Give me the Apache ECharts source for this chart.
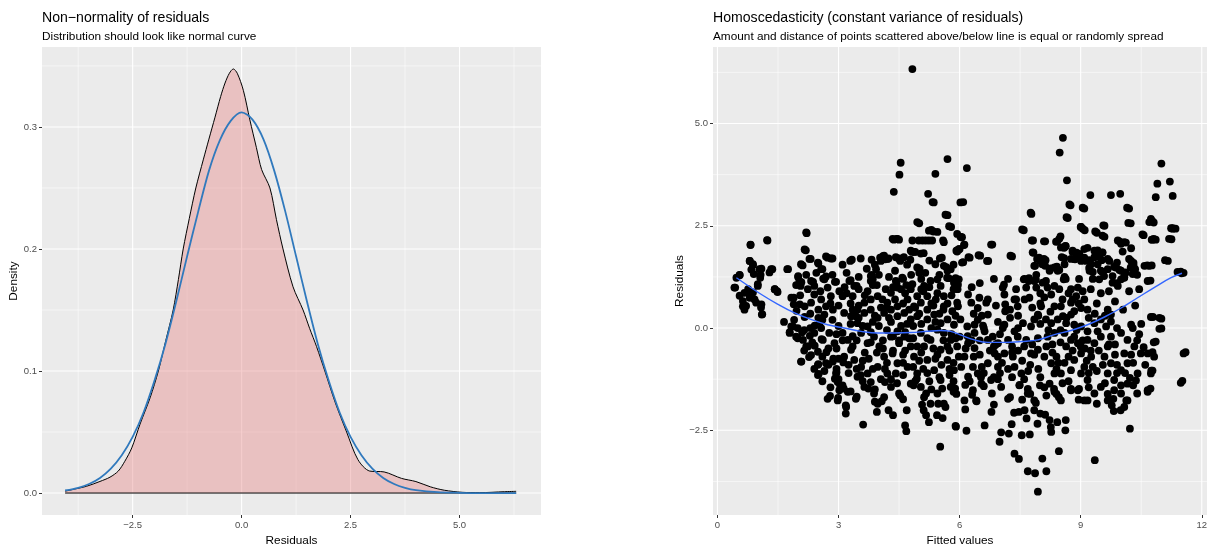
<!DOCTYPE html>
<html><head><meta charset="utf-8">
<script src="https://cdn.jsdelivr.net/npm/echarts@6/dist/echarts.min.js"></script>
<style>html,body{margin:0;padding:0;background:#fff}#c{width:1214px;height:544px}</style>
</head><body><div id="c"></div><script>
// ---------- Left panel: density of residuals ----------
const densityCurve = [[-4.05,0.0015],[-3.8,0.0035],[-3.56,0.0055],[-3.25,0.0095],[-3.02,0.013],[-2.83,0.018],[-2.68,0.026],[-2.52,0.037],[-2.33,0.0565],[-2.1,0.078],[-1.91,0.1],[-1.74,0.125],[-1.57,0.15],[-1.45,0.175],[-1.34,0.2],[-1.2,0.225],[-1.05,0.25],[-0.88,0.273],[-0.75,0.29],[-0.61,0.308],[-0.48,0.325],[-0.38,0.336],[-0.28,0.344],[-0.19,0.3475],[-0.1,0.344],[0.04,0.33],[0.19,0.3057],[0.34,0.283],[0.46,0.265],[0.65,0.25],[0.8,0.224],[0.95,0.2],[1.18,0.169],[1.41,0.15],[1.56,0.135],[1.72,0.12],[1.91,0.1],[2.15,0.074],[2.41,0.05],[2.67,0.0273],[2.94,0.018],[3.27,0.0173],[3.67,0.012],[4.0,0.0094],[4.33,0.0051],[4.65,0.0023],[5.06,0.0006],[5.46,0.0003],[6.03,0.0011],[6.3,0.0014]];
const normalCurve = [[-4.05,0.0021],[-3.75,0.0043],[-3.5,0.0074],[-3.25,0.0124],[-3.0,0.020],[-2.75,0.031],[-2.5,0.046],[-2.25,0.066],[-2.0,0.092],[-1.75,0.122],[-1.5,0.157],[-1.25,0.194],[-1.0,0.230],[-0.75,0.264],[-0.5,0.289],[-0.25,0.305],[0,0.312],[0.25,0.306],[0.5,0.290],[0.75,0.264],[1.0,0.231],[1.25,0.194],[1.5,0.157],[1.75,0.122],[2.0,0.092],[2.25,0.066],[2.5,0.046],[2.75,0.031],[3.0,0.020],[3.25,0.0124],[3.5,0.0074],[3.75,0.0043],[4.0,0.0024],[4.5,0.0007],[5.0,0.0002],[5.5,0.0],[6.3,0.0]];
const densXTicks = [-2.5, 0, 2.5, 5];
const densXMinor = [-3.75, -1.25, 1.25, 3.75, 6.25];
const densYTicks = [0, 0.1, 0.2, 0.3];
const densYMinor = [0.05, 0.15, 0.25, 0.35];
const densXRange = [-4.58, 6.87];
const densYRange = [-0.018, 0.3655];

// ---------- Right panel: residuals vs fitted ----------
const scatterTop = [[4.83,6.33],[4.54,4.04],[4.51,3.75],[5.70,4.13],[5.40,3.77],[4.37,3.33],[5.22,3.28],[5.36,3.07],[5.70,2.76],[5.0,2.56],[5.79,2.47],[6.02,3.07],[2.21,2.32],[0.82,2.03],[1.24,2.14],[4.37,2.16],[4.44,2.18],[4.5,2.16],[5.3,2.4],[5.45,2.35],[5.16,2.14],[5.32,2.14],[5.59,2.14],[2.19,1.9],[2.31,1.69],[0.8,1.64],[0.88,1.54],[0.84,1.43],[1.09,1.45],[1.36,1.44],[0.55,1.3],[1.07,1.3],[1.75,1.44],[2.11,1.53],[2.5,1.58],[2.6,1.44],[2.73,1.72],[2.85,1.7],[3.33,1.67],[3.82,1.67],[4.03,1.72],[4.1,1.76],[4.16,1.68],[4.24,1.7],[4.51,1.7],[4.53,1.64],[4.78,1.67],[4.82,1.86],[4.9,1.86],[5.11,1.83],[5.01,1.45],[5.05,1.2],[5.4,1.56],[5.56,1.72],[5.67,1.49],[5.73,1.22],[5.9,1.22],[5.94,1.9],[6.02,2.23],[4.44,1.1],[4.6,1.2],[4.68,1.05],[3.82,1.3],[3.85,1.2],[2.0,1.25],[2.08,1.12],[2.37,1.13],[2.62,1.21],[2.69,1.26],[2.91,1.13],[3.3,1.17],[3.45,1.03],
[8.56,4.65],[8.48,4.29],[8.66,3.61],[11.0,4.02],[10.9,3.53],[11.21,3.58],[10.86,3.2],[11.28,3.23],[6.18,3.91],[6.09,3.08],[9.24,3.25],[9.75,3.25],[9.98,3.28],[8.75,3.0],[9.09,2.92],[8.68,2.69],[7.78,2.79],[7.59,2.39],[10.2,2.92],[10.24,2.56],[10.77,2.62],[10.81,2.58],[9.0,2.47],[9.1,2.39],[9.59,2.5],[9.4,2.33],[9.59,2.23],[10.56,2.27],[10.78,2.16],[10.86,2.16],[11.25,2.17],[11.28,2.43],[11.35,2.43],[7.82,2.14],[8.12,2.12],[8.5,2.24],[8.42,2.12],[8.63,2.0],[8.59,1.96],[8.8,1.86],[8.9,1.84],[9.17,1.96],[9.42,1.9],[9.54,1.84],[9.96,2.12],[10.12,2.09],[10.04,1.87],[10.25,1.95],[6.81,2.04],[6.06,2.22],[6.12,2.04],[5.98,1.92],[5.94,1.87],[6.51,1.77],[6.71,1.64],[6.25,1.72],[6.09,1.61],[7.3,1.75],[7.83,1.84],[7.97,1.72],[8.01,1.64],[8.13,1.66],[7.87,1.52],[8.05,1.56],[8.26,1.46],[8.41,1.5],[8.47,1.42],[8.59,1.71],[8.86,1.68],[8.97,1.7],[9.09,1.72],[9.21,1.66],[9.34,1.73],[9.46,1.75],[9.52,1.66],[9.71,1.64],[9.21,1.47],[9.3,1.37],[9.54,1.37],[9.58,1.27],[9.83,1.5],[9.96,1.42],[10.08,1.24],[10.25,1.64],[10.31,1.52],[10.35,1.44],[10.65,1.53],[10.76,1.53],[11.16,1.64],[11.48,1.38],[11.55,1.35],[10.73,1.16],[7.61,1.2],[7.72,1.22],[7.89,1.18],[8.14,1.15],[7.1,1.06],[8.63,1.2],[8.96,1.2],[9.87,1.1],[10.08,1.23],[10.29,1.32],[5.9,1.2],[5.96,1.06]];
const scatterBottom = [[3.61,-2.36],[4.65,-2.38],[4.68,-2.52],[5.52,-2.9],[5.9,-2.39],[3.18,-1.89],[3.18,-2.09],[2.79,-1.66],[2.99,-1.71],[3.45,-1.68],[2.51,-1.12],[2.08,-0.82],[2.27,-0.71],[2.5,-0.88],[1.79,-0.1],[1.87,0.04],[1.99,-0.25],[2.91,-1.24],[2.95,-1.08],[3.04,-1.4],[3.13,-1.48],[3.95,-2.05],[3.9,-1.8],[4.07,-1.79],[4.24,-2.01],[4.35,-2.13],[4.53,-1.65],[4.6,-1.74],[4.69,-2.01],[5.07,-1.87],[5.11,-2.01],[5.17,-2.13],[5.24,-2.3],[5.44,-2.13],[5.58,-2.2],[5.47,-1.85],[5.65,-1.93],[5.17,-1.6],[3.74,-1.48],[4.15,-1.32],[4.86,-1.4],[4.94,-1.24],[5.57,-1.48],[5.85,-1.56],[0.42,0.99],[0.63,0.66],[0.8,0.74],[0.71,0.54],[0.96,0.62],[1.08,0.5],[1.11,0.34],[1.42,0.95],[1.49,0.88],[0.55,0.79],[0.88,0.87],[1.0,1.03],[1.89,0.74],[2.04,0.58],[1.96,0.42],[2.16,0.27],[2.41,0.06],[2.54,0.15],[2.29,-0.19],[2.41,-0.43],[2.7,-0.59],[2.58,-0.27],[2.87,-0.75],[2.95,-1.0],[3.12,-0.84],
[7.94,-4.0],[7.69,-3.5],[7.87,-3.55],[8.15,-3.5],[8.05,-3.19],[7.36,-3.07],[7.47,-3.2],[9.35,-3.23],[8.46,-3.01],[6.99,-2.78],[7.03,-2.55],[7.22,-2.58],[7.54,-2.62],[7.74,-2.6],[6.17,-2.51],[5.91,-2.41],[6.62,-2.38],[7.29,-2.35],[7.93,-2.34],[8.23,-2.25],[8.26,-2.42],[8.27,-2.54],[8.42,-2.3],[8.63,-2.25],[8.62,-2.5],[10.22,-2.46],[7.35,-2.07],[7.47,-2.05],[7.61,-2.01],[7.66,-2.21],[7.85,-2.01],[8.0,-2.09],[8.12,-2.12],[7.89,-1.83],[6.79,-2.05],[6.85,-1.87],[6.14,-1.99],[7.25,-1.69],[7.49,-1.39],[7.69,-1.49],[7.75,-1.61],[7.99,-1.4],[8.34,-1.49],[8.4,-1.61],[8.46,-1.69],[8.76,-1.49],[8.96,-1.49],[9.17,-1.77],[9.67,-1.61],[9.77,-1.89],[9.82,-2.03],[9.99,-2.01],[10.08,-1.93],[10.13,-1.77],[9.81,-1.73],[10.37,-1.28],[10.66,-1.52],[10.73,-1.48],[11.52,-1.29],[11.6,-0.59],[10.75,-1.04],[10.78,-1.04],[10.22,-1.22],[10.0,-1.4],[6.42,-1.79],[6.31,-1.63],[5.89,-1.48],[6.14,-1.39],[5.92,-1.61],[6.6,-1.42],[6.85,-1.2],[6.53,-1.2],[10.79,0.27],[11.0,0.23],[11.0,-0.01],[10.86,-0.33],[10.78,-0.59],[10.56,-0.47]];
const scatterCoreLeft = [[0.47,1.23],[0.55,1.29],[0.44,0.99],[0.8,1.64],[0.82,2.04],[1.23,2.15],[0.88,1.56],[0.9,1.32],[1.04,1.44],[1.06,1.23],[1.33,1.44],[1.29,1.36],[1.0,1.07],[0.76,0.95],[0.67,0.86],[0.84,0.86],[0.92,0.7],[1.09,0.58],[0.63,0.53],[0.67,0.45],[1.1,0.33],[1.42,0.95],[1.48,0.9],[1.73,1.44],[2.2,2.34],[2.16,1.92],[2.07,1.56],[2.0,1.27],[2.03,1.15],[2.06,1.03],[1.83,0.74],[1.89,0.58],[2.28,1.69],[2.49,1.6],[2.57,1.44],[2.69,1.75],[2.81,1.7],[2.32,1.15],[2.4,1.03],[2.24,0.95],[2.4,0.82],[2.57,0.7],[2.32,0.62],[2.16,0.53],[2.65,1.19],[2.73,0.99],[2.81,0.78],[2.69,0.53],[2.86,0.45],[2.65,0.33],[2.94,1.13],[3.02,0.9],[3.1,0.78],[3.29,1.64],[3.27,1.15],[3.39,1.03],[3.35,0.78],[3.47,0.45],[3.43,0.29],[3.72,0.9],[3.8,1.27],[3.8,1.15],[3.93,1.44],[4.05,1.64],[4.13,1.77],[4.21,1.69],[3.97,0.78],[4.09,0.7],[4.17,0.95],[4.3,0.86],[4.42,1.15],[4.46,0.99],[4.58,1.23],[4.34,2.18],[4.46,2.18],[4.42,1.73],[4.5,1.69],[4.62,1.73],[4.79,1.89],[4.87,1.86],[4.95,1.48],[5.04,1.82],[4.83,2.14],[4.99,2.14],[5.08,2.14],[5.24,2.14],[4.95,2.59],[5.24,2.38],[5.35,2.36],[5.33,3.08],[5.65,2.77],[5.74,2.49],[5.61,2.1],[5.94,2.3],[5.98,1.93],[5.51,1.7],[5.61,1.52],[5.78,1.44],[4.83,1.07],[4.79,0.95],[4.95,0.78],[5.12,1.03],[5.28,1.15],[5.45,1.19],[5.53,1.03],[5.69,1.23],[5.86,1.11],[5.98,1.19],[4.71,0.7],[4.87,0.53],[5.04,0.62],[5.2,0.45],[5.41,0.7],[5.61,0.53],[5.82,0.41],[5.94,0.62],
[1.83,0.04],[1.79,-0.12],[1.99,0],[1.95,-0.21],[2.12,-0.29],[2.24,-0.45],[2.07,-0.82],[2.32,-0.66],[2.49,-0.58],[2.49,-0.9],[2.49,-1.15],[2.69,-0.86],[2.86,-0.82],[2.94,-1.11],[2.98,-1.32],[3.1,-1.4],[3.02,-1.52],[3.23,-1.56],[2.73,-1.73],[2.98,-1.77],[3.19,-1.93],[3.43,-1.73],[2.4,-0.12],[2.61,-0.29],[2.57,0],[2.77,-0.12],[2.9,-0.37],[3.1,-0.12],[3.23,-0.29],[3.31,-0.53],[3.14,-0.7],[3.39,-0.78],[3.56,-0.95],[3.47,-1.19],[3.72,-1.11],[3.8,-1.32],[3.64,-1.44],[3.88,-1.6],[3.97,-1.85],[4.13,-1.69],[4.3,-1.44],[4.21,-1.11],[4.42,-1.11],[4.46,-0.86],[4.34,-0.62],[4.13,-0.7],[4.01,-0.45],[3.88,-0.21],[3.72,0.04],[3.56,-0.12],[3.47,0.12],[3.72,-0.37],[3.97,-0.95],[4.5,-0.37],[4.63,-0.21],[4.79,-0.45],[4.87,-0.7],[4.71,-0.95],[4.95,-1.11],[4.79,-1.36],[5.04,-1.44],[5.12,-1.69],[5.28,-1.85],[5.45,-1.6],[5.61,-1.85],[5.78,-1.44],[5.53,-1.27],[5.37,-1.03],[5.2,-0.78],[5.12,-0.45],[5.28,-0.29],[5.53,-0.53],[5.7,-0.78],[5.86,-1.03],[5.98,-0.7],[5.94,-0.45],[5.78,-0.29],[5.61,-0.12],[5.45,-0.04],[5.04,-0.12],[4.46,-0.08],[4.3,-0.21],
[3.14,0.37],[3.31,0.29],[3.64,0.37],[3.8,0.45],[3.97,0.25],[4.13,0.37],[4.3,0.45],[4.46,0.29],[4.63,0.37],[4.79,0.21],[4.95,0.29],[5.2,0.21],[5.37,0.33],[5.53,0.12],[5.7,0.21],[5.86,0.08],[6.02,0.21],[3.64,0.62],[3.8,0.7],[4.21,0.62],[4.46,0.53],[5.2,0.78],[5.61,0.78],
[2.6,0.2],[2.95,-0.5],[3.3,0.1],[3.65,-0.6],[4.0,0.05],[4.35,-0.55],[4.7,0.1],[5.05,-0.6],[5.4,0.15],[5.75,-0.55],[2.75,-0.9],[3.1,-0.3],[3.45,-1.0],[3.8,-0.35],[4.15,-1.0],[4.5,-0.3],[4.85,-0.95],[5.2,-0.25],[5.55,-0.9],[5.9,-0.25],[2.8,0.6],[3.15,1.0],[3.5,0.55],[3.85,1.05],[4.2,0.5],[4.55,0.95],[4.9,0.5],[5.25,1.0],[5.6,0.45],[5.95,0.95],[3.0,-1.25],[3.6,-1.3],[4.3,-1.25],[4.9,-1.3],[5.5,-1.2],[3.2,1.35],[3.7,1.45],[4.4,1.4],[5.0,1.35],[5.7,1.4]];
const scatterCoreLeft2 = [[3.3,-1.55],[3.9,-1.5],[4.5,-1.6],[5.3,-1.5],[2.65,-1.05],[3.25,-1.1],[3.85,-1.0],[4.6,-1.15],[5.2,-1.1],[5.75,-1.15],[2.6,-0.7],[3.0,-0.75],[3.6,-0.8],[4.2,-0.85],[4.6,-0.65],[5.0,-0.8],[5.4,-0.75],[5.85,-0.85],[2.2,-0.45],[2.75,-0.5],[3.35,-0.45],[3.95,-0.6],[4.1,-0.3],[4.65,-0.55],[5.35,-0.5],[5.7,-0.45],[2.15,-0.05],[2.95,-0.15],[3.35,-0.2],[3.8,-0.1],[4.2,-0.05],[4.65,-0.1],[4.85,-0.25],[5.3,0.0],[5.8,-0.15],[2.3,0.35],[2.85,0.2],[3.0,0.05],[3.5,0.25],[3.85,0.15],[4.3,0.15],[4.55,0.05],[5.05,0.1],[5.5,0.35],[5.9,0.3],[2.5,0.45],[3.0,0.55],[3.3,0.6],[3.65,0.8],[4.05,0.5],[4.4,0.7],[4.75,0.45],[5.1,0.9],[5.35,0.55],[5.8,0.8],[2.55,0.9],[3.2,0.85],[3.5,0.95],[3.95,1.05],[4.35,1.0],[4.65,0.85],[5.05,0.95],[5.45,0.85],[5.85,0.95],[2.85,1.3],[3.5,1.25],[4.0,1.3],[4.25,1.25],[4.8,1.3],[5.15,1.35],[5.5,1.3],[3.1,1.55],[3.55,1.7],[3.9,1.55],[4.7,1.55],[5.25,1.65],[5.85,1.55],
[1.65,0.15],[1.9,0.2],[2.1,-0.1],[2.3,0.0],[2.05,0.8],[2.2,1.3],[2.45,1.35],[1.95,1.05],[2.5,0.25],[2.35,-0.35],[2.15,-0.55],[2.6,-1.3],[2.4,-1.0],[2.8,-1.45],
[3.45,-0.3],[3.75,-0.75],[4.05,-1.25],[4.35,-0.2],[4.6,-0.85],[4.95,-0.45],[5.25,-1.3],[5.6,-0.3],[5.85,-1.3],[3.25,-0.9],[3.55,-1.15],[4.1,-0.5],[4.45,-1.35],[4.75,-0.25],[5.1,-1.0],[5.45,-0.65],[5.75,-1.0],[3.9,0.3],[4.25,0.25],[4.6,0.6],[5.0,0.35],[5.3,0.6],[5.7,0.6],[3.35,0.45],[3.6,0.05],[4.85,0.05]];
const scatterCoreRight = [[8.72,3.02],[9.05,2.94],[7.76,2.82],[8.65,2.71],[10.15,2.94],[10.18,2.57],[10.74,2.67],[10.7,2.59],[11.28,2.44],[11.24,2.44],[9.01,2.47],[9.05,2.43],[7.55,2.41],[9.36,2.36],[9.56,2.51],[9.54,2.26],[10.53,2.29],[10.76,2.16],[10.81,2.18],[11.19,2.18],[9.92,2.14],[10.0,2.06],[10.08,2.1],[6.78,2.04],[7.79,2.14],[8.09,2.12],[8.39,2.11],[8.47,2.18],[8.51,1.97],[8.62,2.01],[8.8,1.89],[8.97,1.81],[9.09,1.93],[9.34,1.89],[9.44,1.81],[9.54,1.85],[9.67,1.69],[9.13,1.64],[9.26,1.56],[9.22,1.4],[9.5,1.4],[9.46,1.19],[9.67,1.44],[9.79,1.27],[9.87,1.48],[10.0,1.4],[10.12,1.36],[10.24,1.48],[10.31,1.59],[10.2,1.69],[9.79,1.11],[9.92,1.03],[10.0,1.19],[10.08,1.27],[10.58,1.52],[10.7,1.52],[10.66,1.15],[11.09,1.66],[11.4,1.37],[11.5,1.34],[6.04,2.22],[6.11,2.03],[6.0,1.93],[5.92,1.89],[6.22,1.73],[6.06,1.6],[6.47,1.78],[6.68,1.64],[7.26,1.77],[7.81,1.85],[7.92,1.69],[8.09,1.69],[7.85,1.52],[8.12,1.52],[8.23,1.4],[8.35,1.48],[8.43,1.4],[8.53,1.73],[8.6,1.56],[8.76,1.69],[8.84,1.69],[8.93,1.77],[9.01,1.64],[9.42,1.56],
[7.59,1.19],[7.71,1.15],[7.85,1.15],[7.65,0.99],[7.9,0.99],[8.06,1.11],[8.18,0.99],[8.35,1.03],[8.27,0.82],[8.47,0.95],[8.58,1.19],[8.76,0.95],[8.93,0.99],[9.05,0.9],[8.89,0.78],[8.76,0.62],[9.09,0.7],[9.01,0.49],[9.17,0.45],[7.07,0.99],[7.11,0.82],[7.36,0.7],[7.44,0.53],[7.13,0.58],[7.13,0.41],[7.61,0.7],[7.73,0.74],[8.02,0.53],[7.94,0.33],[8.35,0.53],[8.51,0.53],[8.56,0.29],[8.76,0.33],[8.84,0.41],[6.21,0.82],[6.49,0.74],[6.66,0.62],[6.7,0.33],[6.45,0.49],[6.29,0.62],[5.96,0.53],
[6.19,0.04],[6.37,0.08],[6.58,0.06],[6.82,-0.21],[7.11,0.08],[7.07,0],[7.36,-0.08],[7.57,0.12],[7.77,0.04],[7.85,0.21],[8.14,0.21],[8.27,0.12],[8.43,0.21],[8.64,0.12],[8.84,0.08],[9.01,0.04],[9.17,-0.08],[9.34,0.12],[9.5,0.21],[9.63,0.04],[9.75,0.16],[9.67,0.45],[9.75,0.33],[10.25,0.08],[10.29,0],[10.74,0.27],[10.95,0.25],[10.95,-0.02],[10.81,-0.35],[11.55,-0.62],[11.48,-1.34],
[6.0,-0.21],[6.21,-0.37],[6.37,-0.49],[6.12,-0.7],[6.33,-0.95],[6.04,-0.95],[6.21,-1.19],[6.45,-1.11],[6.54,-1.36],[6.33,-1.52],[6.41,-1.77],[6.12,-1.77],[6.7,-0.86],[6.87,-0.62],[6.95,-0.95],[6.78,-1.27],[7.03,-1.44],[7.2,-1.73],[7.11,-0.62],[7.32,-0.7],[7.36,-0.95],[7.53,-1.11],[7.48,-1.4],[7.69,-1.6],[7.85,-1.77],[7.77,-0.62],[7.94,-0.53],[8.1,-0.7],[8.27,-0.86],[8.35,-1.11],[8.23,-1.36],[8.35,-1.56],[8.51,-1.77],[8.51,-1.11],[8.64,-0.45],[8.76,-0.29],[8.93,-0.37],[9.01,-0.62],[8.84,-0.78],[8.76,-1.03],[9.01,-1.11],[9.17,-1.27],[9.09,-0.95],[9.26,-0.7],[9.34,-0.37],[9.5,-0.21],[9.67,-0.45],[9.59,-0.7],[9.75,-0.86],[9.67,-1.11],[9.83,-1.27],[10.0,-1.03],[10.16,-0.86],[10.08,-0.62],[10.33,-0.45],[10.49,-0.62],[10.66,-0.62],[10.82,-0.7],[10.41,-1.11],[10.16,-1.36],[10.0,-1.6],[9.83,-1.52],[9.5,-1.44],[9.34,-1.6],[8.93,-1.52],[8.76,-1.52],[9.09,-1.77],[9.67,-1.77],[10.16,-1.77],[10.74,-1.11],[10.66,-1.56],
[6.7,-0.29],[6.95,-0.37],[7.2,-0.29],[7.44,-0.21],[7.65,-0.29],[7.94,-0.25],[8.18,-0.21],[8.35,-0.12],[8.6,-0.12],[8.84,-0.21],[9.17,-0.29],[9.42,-0.08],[9.75,-0.21],[10.0,-0.12],[10.16,-0.29],[6.37,-0.12],[6.62,-0.08],
[6.2,-0.2],[6.55,0.3],[6.9,-0.4],[7.25,0.25],[7.6,-0.45],[7.95,0.3],[8.3,-0.4],[8.65,0.25],[9.0,-0.45],[9.35,0.35],[9.7,-0.4],[10.05,0.45],[10.4,-0.3],[6.35,-0.7],[6.7,0.7],[7.05,-0.85],[7.4,0.7],[7.75,-0.9],[8.1,0.75],[8.45,-0.85],[8.8,0.7],[9.15,-0.8],[9.5,0.85],[9.85,-0.65],[10.2,0.9],[6.5,1.1],[7.2,1.2],[7.9,1.3],[8.6,1.25],[9.3,1.2],[9.9,1.6],[10.4,1.3],[6.6,-1.1],[7.3,-1.2],[8.0,-1.2],[8.7,-1.3],[9.4,-1.05],[10.1,-1.1]];
const scatterCoreRight2 = [[6.8,-1.6],[7.55,-1.75],[8.15,-1.65],[8.95,-1.75],[9.4,-1.85],[10.4,-1.6],[6.25,-1.3],[6.95,-1.25],[7.6,-1.25],[8.1,-1.45],[8.55,-1.35],[9.2,-1.45],[9.6,-1.35],[10.3,-1.4],[6.55,-0.95],[7.2,-1.0],[7.95,-1.0],[8.6,-0.85],[9.3,-0.95],[9.9,-0.9],[10.6,-0.9],[6.5,-0.65],[6.95,-0.7],[7.45,-0.55],[8.3,-0.6],[8.8,-0.55],[9.45,-0.55],[10.25,-0.65],[6.3,-0.3],[6.85,-0.45],[7.3,-0.45],[7.8,-0.4],[8.5,-0.35],[9.1,-0.5],[9.85,-0.4],[10.45,-0.15],[6.45,0.2],[6.95,0.15],[7.45,0.3],[8.0,0.1],[8.5,-0.05],[9.2,0.25],[9.9,0.0],[10.5,0.1],[6.35,0.35],[6.9,0.55],[7.25,0.45],[7.8,0.5],[8.25,0.4],[8.95,0.6],[9.4,0.6],[9.85,0.65],[10.35,0.55],[6.3,1.0],[6.85,1.2],[7.4,0.95],[8.0,0.85],[8.7,0.85],[9.25,0.95],[9.7,0.9],[10.45,0.95],
[6.15,-0.5],[6.5,-0.3],[6.75,-0.55],[7.0,-0.15],[7.3,-0.6],[7.55,-0.8],[7.85,-0.65],[8.15,-0.45],[8.4,-0.7],[8.7,-0.7],[9.05,-0.3],[9.25,-0.55],[9.55,-0.9],[9.9,-1.1],[10.3,-0.85],[6.6,0.0],[7.45,0.0],[8.2,-0.05],[8.9,-0.05],[9.6,0.3],[7.0,-1.1],[7.7,-1.05],[8.4,-1.0],[9.2,-1.1],[8.0,0.6],[8.55,0.7]];
const loessCurve = [[0.47,1.23],[1.09,0.82],[1.5,0.58],[1.91,0.37],[2.32,0.21],[2.73,0.08],[3.14,0.0],[3.56,-0.08],[3.97,-0.12],[4.38,-0.12],[4.79,-0.11],[5.2,-0.08],[5.53,-0.06],[5.78,-0.08],[6.0,-0.16],[6.37,-0.29],[6.7,-0.35],[7.11,-0.35],[7.53,-0.33],[7.94,-0.29],[8.35,-0.16],[8.76,-0.06],[9.17,0.08],[9.59,0.27],[10.0,0.49],[10.41,0.74],[10.82,0.99],[11.24,1.23],[11.51,1.34]];
const fitXTicks = [0, 3, 6, 9, 12];
const fitXMinor = [1.5, 4.5, 7.5, 10.5];
const fitYTicks = [-2.5, 0, 2.5, 5];
const fitYMinor = [-3.75, -1.25, 1.25, 3.75, 6.25];
const fitXRange = [-0.11, 12.13];
const fitYRange = [-4.57, 6.87];

const FONT = '"Liberation Sans", Arial, Helvetica, sans-serif';
const minus = s => s.replace('-', '\u2212');

function gridLines(xi, xVals, yVals, xr, yr, w) {
  const out = [];
  xVals.forEach(v => out.push([[v, yr[0]], [v, yr[1]]]));
  yVals.forEach(v => out.push([[xr[0], v], [xr[1], v]]));
  return out.map(d => ({
    type: 'line', xAxisIndex: xi, yAxisIndex: xi, data: d, symbol: 'none', silent: true,
    z: 1, lineStyle: { color: '#FFFFFF', width: w }, animation: false
  }));
}

function axisDef(gi, range, ticks, fmt, name, gap) {
  return {
    type: 'value', gridIndex: gi, min: range[0], max: range[1],
    splitLine: { show: false }, axisLine: { show: false, onZero: false },
    axisTick: { show: true, customValues: ticks, length: 3, lineStyle: { color: '#333333', width: 1 } },
    axisLabel: { customValues: ticks, formatter: fmt, color: '#4D4D4D', fontSize: 9.5, fontFamily: FONT, margin: 5 },
    name: name, nameLocation: 'middle', nameGap: gap,
    nameTextStyle: { color: '#000', fontSize: 11.8, fontFamily: FONT }
  };
}

const chart = echarts.init(document.getElementById('c'), null, { renderer: 'canvas' });
const titleStyle = (fs) => ({ fontSize: fs, fontWeight: 'normal', color: '#000', fontFamily: FONT, lineHeight: fs });

chart.setOption({
  animation: false,
  backgroundColor: '#FFFFFF',
  title: [
    { text: 'Non\u2212normality of residuals', left: 42, top: 10.6, padding: 0, textStyle: titleStyle(14.1) },
    { text: 'Distribution should look like normal curve', left: 42, top: 30.4, padding: 0, textStyle: titleStyle(11.8) },
    { text: 'Homoscedasticity (constant variance of residuals)', left: 713, top: 10.6, padding: 0, textStyle: titleStyle(14.1) },
    { text: 'Amount and distance of points scattered above/below line is equal or randomly spread', left: 713, top: 30.4, padding: 0, textStyle: titleStyle(11.8) }
  ],
  grid: [
    { left: 42, top: 47, width: 499, height: 468, show: true, backgroundColor: '#EBEBEB', borderWidth: 0, containLabel: false, outerBoundsMode: 'none' },
    { left: 713, top: 47, width: 494, height: 468, show: true, backgroundColor: '#EBEBEB', borderWidth: 0, containLabel: false, outerBoundsMode: 'none' }
  ],
  xAxis: [
    axisDef(0, densXRange, densXTicks, v => minus(v.toFixed(1)), 'Residuals', 15.5),
    axisDef(1, fitXRange, fitXTicks, v => minus(String(v)), 'Fitted values', 15.5)
  ],
  yAxis: [
    axisDef(0, densYRange, densYTicks, v => v.toFixed(1), 'Density', 22),
    axisDef(1, fitYRange, fitYTicks, v => minus(v.toFixed(1)), 'Residuals', 27.5)
  ],
  series: [
    ...gridLines(0, densXMinor, densYMinor, densXRange, densYRange, 0.55),
    ...gridLines(0, densXTicks, densYTicks, densXRange, densYRange, 1.1),
    ...gridLines(1, fitXMinor, fitYMinor, fitXRange, fitYRange, 0.55),
    ...gridLines(1, fitXTicks, fitYTicks, fitXRange, fitYRange, 1.1),
    {
      type: 'line', xAxisIndex: 0, yAxisIndex: 0, data: densityCurve, symbol: 'none', smooth: 0.3, z: 3,
      lineStyle: { color: '#000000', width: 1 }, areaStyle: { color: 'rgba(230,130,130,0.4)', opacity: 1, origin: 0 }
    },
    {
      type: 'line', xAxisIndex: 0, yAxisIndex: 0, symbol: 'none', z: 4,
      data: [[densityCurve[0][0], 0], [densityCurve[densityCurve.length - 1][0], 0]],
      lineStyle: { color: '#000000', width: 1 }
    },
    {
      type: 'line', xAxisIndex: 0, yAxisIndex: 0, data: normalCurve, symbol: 'none', smooth: 0.3, z: 5,
      lineStyle: { color: '#3079BD', width: 1.8 }
    },
    {
      type: 'scatter', xAxisIndex: 1, yAxisIndex: 1, symbolSize: 7.8, z: 3,
      data: [].concat(scatterTop, scatterBottom, scatterCoreLeft, scatterCoreLeft2, scatterCoreRight, scatterCoreRight2),
      itemStyle: { color: '#000000', opacity: 1 }
    },
    {
      type: 'line', xAxisIndex: 1, yAxisIndex: 1, data: loessCurve, symbol: 'none', smooth: 0.4, z: 5,
      lineStyle: { color: '#3366FF', width: 1.4 }
    }
  ]
});
</script></body></html>
